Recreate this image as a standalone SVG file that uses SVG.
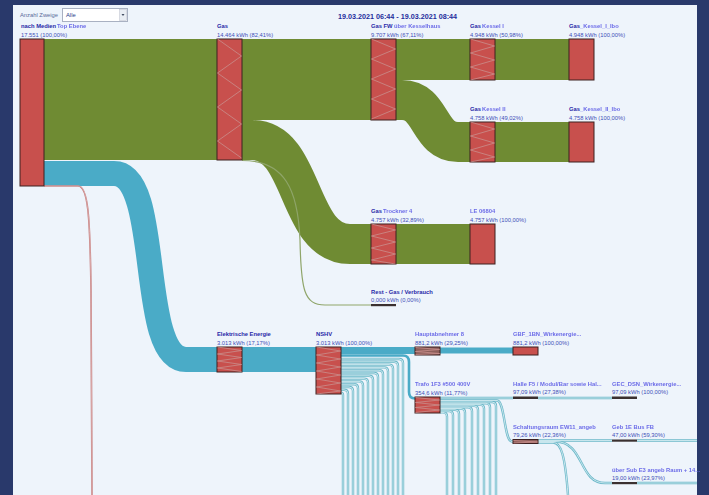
<svg xmlns="http://www.w3.org/2000/svg" xmlns:xlink="http://www.w3.org/1999/xlink" width="709" height="495" viewBox="0 0 709 495">
<style>
.nm{font:bold 5.8px "Liberation Sans",Arial,sans-serif;fill:#2828a8}
.vl{font:5.8px "Liberation Sans",Arial,sans-serif;fill:#3e4fb8}
.bl{font:bold 5.8px "Liberation Sans",Arial,sans-serif;fill:#6c6ce8;filter:url(#blur)}
.nd{fill:#c8504d;stroke:#3d2020;stroke-width:1}
.dk{fill:#8c5e5a;stroke:#3d2020;stroke-width:1}
.th{fill:#3a3030}
.hz{fill:none;stroke:#c98e8c;stroke-width:0.8}
.g{fill:#6f8b33}
.b{fill:#4aabc7}
.gs{fill:none;stroke:#6f8b33}
.bs{fill:none;stroke:#4aabc7}
</style>
<defs>
<filter id="blur" x="-5%" y="-50%" width="110%" height="200%"><feGaussianBlur stdDeviation="0.55"/></filter>
<g id="thin" fill="none">
<path d="M341,359 H399 Q403,359 403,363 V495"/>
<path d="M341,361.8 H394 Q398,361.8 398,365.8 V495"/>
<path d="M341,364.6 H389 Q393,364.6 393,368.6 V495"/>
<path d="M341,367.4 H384 Q388,367.4 388,371.4 V495"/>
<path d="M341,370.2 H379 Q383,370.2 383,374.2 V495"/>
<path d="M341,373 H374 Q378,373 378,377 V495"/>
<path d="M341,375.8 H369 Q373,375.8 373,379.8 V495"/>
<path d="M341,378.6 H364 Q368,378.6 368,382.6 V495"/>
<path d="M341,381.4 H359 Q363,381.4 363,385.4 V495"/>
<path d="M341,384.2 H354 Q358,384.2 358,388.2 V495"/>
<path d="M341,387 H349 Q353,387 353,391 V495"/>
<path d="M341,389.8 H344 Q348,389.8 348,393.8 V495"/>
<path d="M341,392.6 Q343,392.6 343,395 V495"/>
<path d="M440,402 H492 Q496,402 496,406 V495"/>
<path d="M440,403.3 H486 Q490,403.3 490,407.3 V495"/>
<path d="M440,404.6 H480 Q484,404.6 484,408.6 V495"/>
<path d="M440,405.9 H474 Q478,405.9 478,409.9 V495"/>
<path d="M440,407.2 H468 Q472,407.2 472,411.2 V495"/>
<path d="M440,408.5 H461 Q465,408.5 465,412.5 V495"/>
<path d="M440,409.8 H455 Q459,409.8 459,413.8 V495"/>
<path d="M440,411.1 H449 Q453,411.1 453,415.1 V495"/>
<path d="M440,412.4 H443 Q447,412.4 447,416.4 V495"/>
<path d="M440,398 H513 M538,398 H612"/>
<path d="M440,400.5 H497 C505,400.5 504,441.5 512,441.5 H513"/>
<path d="M538,440.5 H612 M637,440.5 H697"/>
<path d="M538,441.5 H555 C585,441.5 578,483 605,483 H612 M637,483 H697"/>
<path d="M538,442.5 H553 C561,442.5 565,455 568,495"/>
</g>
</defs>
<rect width="709" height="495" fill="#29396b"/>
<rect x="13" y="5" width="684" height="490" fill="#eef4fb"/>
<g id="controls">
<text x="20" y="17.3" style="font:5.8px 'Liberation Sans',Arial,sans-serif;fill:#5a6a9a">Anzahl Zweige</text>
<rect x="62.5" y="8.5" width="65" height="13" fill="#ffffff" stroke="#a9b1c2"/>
<rect x="119.5" y="9.5" width="7" height="11" fill="#e9edf3" stroke="#c3c9d3" stroke-width="0.6"/>
<path d="M121.5,14 H124.5 L123,16 Z" fill="#404a60"/>
<text x="66" y="17.3" style="font:5.8px 'Liberation Sans',Arial,sans-serif;fill:#2a3a8a">Alle</text>
<text x="397.5" y="19" text-anchor="middle" style="font:bold 7.2px 'Liberation Sans',Arial,sans-serif;fill:#1e2c9c">19.03.2021 06:44 - 19.03.2021 08:44</text>
</g>
<g id="connectors">
<rect class="g" x="44" y="39" width="173" height="121"/>
<rect class="g" x="242" y="39" width="129" height="81"/>
<path class="gs" stroke-width="40" d="M242,140 H252 C305,140 296,244 350,244 H371"/>
<rect class="g" x="396" y="39" width="74" height="41"/>
<path class="gs" stroke-width="40" d="M396,100 H402 C432,100 428,142 458,142 H470"/>
<rect class="g" x="495" y="39" width="74" height="41"/>
<rect class="g" x="495" y="122" width="74" height="40"/>
<rect class="g" x="396" y="224" width="74" height="40"/>
<path d="M242,160.5 C285,160.5 298,190 300,240 C301,290 304,305 325,305 H371" fill="none" stroke="#8fa56a" stroke-width="1.2"/>
<path class="bs" stroke-width="25" d="M44,173.5 H114 C163,173.5 137,359.5 186,359.5 H217"/>
<path d="M44,186 H78 C88,186 90,215 91,290 L92,495" fill="none" stroke="#c07272" stroke-width="1.6"/>
<path d="M44,186 H78 C88,186 90,215 91,290 L92,495" fill="none" stroke="#f0d8d8" stroke-width="0.5"/>
<rect class="b" x="242" y="347" width="74" height="25"/>
<rect class="b" x="341" y="347" width="74" height="7"/>
<rect class="b" x="440" y="347.5" width="73" height="6"/>
<use xlink:href="#thin" stroke="#6cb8c9" stroke-width="2.4"/>
<use xlink:href="#thin" stroke="#d3ebf1" stroke-width="0.9"/>
<path d="M341,355.5 H403 Q409,355.5 409,362 V392 Q409,398.5 415,398.5" fill="none" stroke="#4aabc7" stroke-width="2.6"/>
</g>
<g id="n-nach-medien">
<rect class="nd" x="20" y="39" width="24" height="147"/>
<text class="nm" x="21" y="28">nach Medien</text>
<text class="bl" x="57" y="28">Top Ebene</text>
<text class="vl" x="21" y="36.5">17.551 (100,00%)</text>
</g>
<g id="n-gas">
<rect class="nd" x="217" y="39" width="25" height="121"/>
<polyline class="hz" points="217.5,39 241.5,56 217.5,73 241.5,90 217.5,107 241.5,124 217.5,141 241.5,158"/>
<text class="nm" x="217" y="28">Gas</text>
<text class="vl" x="217" y="36.5">14.464 kWh  (82,41%)</text>
</g>
<g id="n-gas-fw">
<rect class="nd" x="371" y="39" width="25" height="81"/>
<polyline class="hz" points="371.5,39 395.5,49 371.5,59 395.5,69 371.5,79 395.5,89 371.5,99 395.5,109 371.5,119"/>
<text class="nm" x="371" y="28">Gas FW</text>
<text class="bl" x="394" y="28">über Kesselhaus</text>
<text class="vl" x="371" y="36.5">9.707 kWh  (67,11%)</text>
</g>
<g id="n-kessel1">
<rect class="nd" x="470" y="39" width="25" height="41"/>
<polyline class="hz" points="470.5,39 494.5,46 470.5,53 494.5,60 470.5,67 494.5,74 470.5,80"/>
<text class="nm" x="470" y="28">Gas</text>
<text class="bl" x="482" y="28">Kessel I</text>
<text class="vl" x="470" y="36.5">4.948 kWh  (50,98%)</text>
</g>
<g id="n-kessel1-ibo">
<rect class="nd" x="569" y="39" width="25" height="41"/>
<text class="nm" x="569" y="28">Gas</text>
<text class="bl" x="580" y="28">_Kessel_I_Ibo</text>
<text class="vl" x="569" y="36.5">4.948 kWh  (100,00%)</text>
</g>
<g id="n-kessel2">
<rect class="nd" x="470" y="122" width="25" height="40"/>
<polyline class="hz" points="470.5,122 494.5,129 470.5,136 494.5,143 470.5,150 494.5,157 470.5,162"/>
<text class="nm" x="470" y="111">Gas</text>
<text class="bl" x="482" y="111">Kessel II</text>
<text class="vl" x="470" y="119.5">4.758 kWh  (49,02%)</text>
</g>
<g id="n-kessel2-ibo">
<rect class="nd" x="569" y="122" width="25" height="40"/>
<text class="nm" x="569" y="111">Gas</text>
<text class="bl" x="580" y="111">_Kessel_II_Ibo</text>
<text class="vl" x="569" y="119.5">4.758 kWh  (100,00%)</text>
</g>
<g id="n-trocken">
<rect class="nd" x="371" y="224" width="25" height="40"/>
<polyline class="hz" points="371.5,224 395.5,230 371.5,236 395.5,242 371.5,248 395.5,254 371.5,260 395.5,264"/>
<text class="nm" x="371" y="213">Gas</text>
<text class="bl" x="383" y="213">Trockner 4</text>
<text class="vl" x="371" y="221.5">4.757 kWh  (32,89%)</text>
</g>
<g id="n-le">
<rect class="nd" x="470" y="224" width="25" height="40"/>
<text class="bl" x="470" y="213">LE 06804</text>
<text class="vl" x="470" y="221.5">4.757 kWh  (100,00%)</text>
</g>
<g id="n-rest">
<rect class="th" x="371" y="304" width="25" height="2.2"/>
<text class="nm" x="371" y="294">Rest - Gas / Verbrauch</text>
<text class="vl" x="371" y="302">0,000 kWh  (0,00%)</text>
</g>
<g id="n-elektro">
<rect class="nd" x="217" y="347" width="25" height="25"/>
<polyline class="hz" points="217.5,347 241.5,350.5 217.5,354 241.5,357.5 217.5,361 241.5,364.5 217.5,368 241.5,371.5"/>
<text class="nm" x="217" y="336">Elektrische Energie</text>
<text class="vl" x="217" y="344.5">3.013 kWh  (17,17%)</text>
</g>
<g id="n-nshv">
<rect class="nd" x="316" y="347" width="25" height="47"/>
<polyline class="hz" points="316.5,347 340.5,351 316.5,355 340.5,359 316.5,363 340.5,367 316.5,371 340.5,375 316.5,379 340.5,383 316.5,387 340.5,391 316.5,394"/>
<text class="nm" x="316" y="336">NSHV</text>
<text class="vl" x="316" y="344.5">3.013 kWh  (100,00%)</text>
</g>
<g id="n-haupt">
<rect class="dk" x="415" y="347" width="25" height="8"/>
<polyline class="hz" points="415.5,347.5 439.5,349.5 415.5,351.5 439.5,353.5 415.5,354.5"/>
<text class="bl" x="415" y="336">Hauptabnehmer 8</text>
<text class="vl" x="415" y="344.5">881,2 kWh  (29,25%)</text>
</g>
<g id="n-gbf">
<rect class="nd" x="513" y="347" width="25" height="8"/>
<text class="bl" x="513" y="336">GBF_1BN_Wirkenergie...</text>
<text class="vl" x="513" y="344.5">881,2 kWh  (100,00%)</text>
</g>
<g id="n-trafo">
<rect class="nd" x="415" y="397" width="25" height="16"/>
<polyline class="hz" points="415.5,397.5 439.5,400 415.5,402.5 439.5,405 415.5,407.5 439.5,410 415.5,412.5"/>
<text class="bl" x="415" y="386">Trafo 1F3 #500 400V</text>
<text class="vl" x="415" y="394.5">354,6 kWh  (11,77%)</text>
</g>
<g id="n-halle">
<rect class="th" x="513" y="396.5" width="25" height="2.5"/>
<text class="bl" x="513" y="386">Halle F5 / Modul/Bar sowie Hal...</text>
<text class="vl" x="513" y="394">97,09 kWh  (27,38%)</text>
</g>
<g id="n-gec">
<rect class="th" x="612" y="396.5" width="25" height="2.5"/>
<text class="bl" x="612" y="386">GEC_DSN_Wirkenergie...</text>
<text class="vl" x="612" y="394">97,09 kWh  (100,00%)</text>
</g>
<g id="n-schalt">
<rect class="dk" x="513" y="439.5" width="25" height="4"/>
<polyline class="hz" points="513.5,440.5 537.5,442 513.5,443"/>
<text class="bl" x="513" y="429">Schaltungsraum EW11_angeb</text>
<text class="vl" x="513" y="437">79,26 kWh  (22,36%)</text>
</g>
<g id="n-geb1e">
<rect class="th" x="612" y="439.5" width="25" height="2.2"/>
<text class="bl" x="612" y="429">Geb 1E Bus FB</text>
<text class="vl" x="612" y="437">47,00 kWh  (59,30%)</text>
</g>
<g id="n-uebersub">
<rect class="th" x="612" y="482" width="25" height="2.2"/>
<text class="bl" x="612" y="472">über Sub E3 angeb Raum + 14...</text>
<text class="vl" x="612" y="480">19,00 kWh  (23,97%)</text>
</g>
</svg>
